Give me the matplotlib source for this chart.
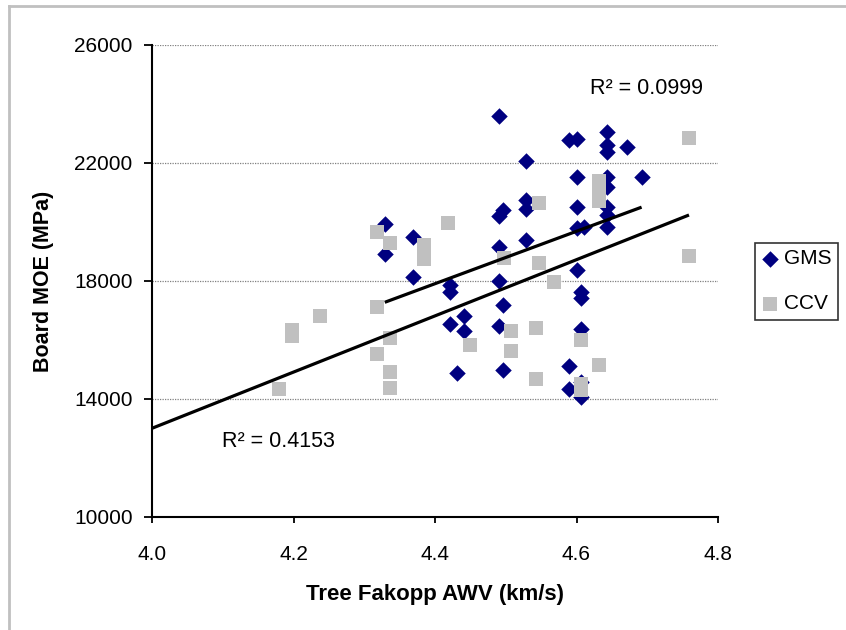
"""Board MOE against tree Fakopp AWV, GMS and CCV with linear trend lines."""
import matplotlib

matplotlib.use("Agg")
import matplotlib.pyplot as plt
import numpy as np
from matplotlib.lines import Line2D

plt.rcParams["font.family"] = ["Liberation Sans", "DejaVu Sans"]

# GMS series (km/s, MPa)
gms_awv = [
    4.329, 4.329, 4.369, 4.369, 4.421, 4.421, 4.421, 4.441, 4.441, 4.431,
    4.491, 4.491, 4.496, 4.491, 4.491, 4.496, 4.491, 4.496,
    4.528, 4.528, 4.528, 4.528,
    4.590, 4.600, 4.643, 4.643, 4.643, 4.672, 4.600, 4.643, 4.643, 4.692,
    4.600, 4.643, 4.643, 4.600, 4.610, 4.643, 4.600, 4.607, 4.607, 4.607,
    4.590, 4.590, 4.607, 4.607,
]
gms_moe = [
    19920, 18900, 19500, 18140, 17860, 17640, 16530, 16820, 16300, 14870,
    23600, 20200, 20410, 19160, 18010, 17190, 16480, 14980,
    22070, 20750, 20440, 19390,
    22780, 22810, 23040, 22610, 22360, 22530, 21520, 21540, 21200, 21520,
    20520, 20520, 20240, 19790, 19840, 19840, 18370, 17640, 17410, 16360,
    15120, 14340, 14590, 14080,
]

# CCV series (km/s, MPa)
ccv_awv = [
    4.179, 4.198, 4.198, 4.237, 4.318, 4.337, 4.318, 4.337, 4.318, 4.337,
    4.337, 4.384, 4.384, 4.419, 4.449, 4.498, 4.508, 4.508, 4.547, 4.547,
    4.543, 4.543, 4.568, 4.632, 4.632, 4.632, 4.632, 4.607, 4.632, 4.607,
    4.607, 4.759, 4.759,
]
ccv_moe = [
    14330, 16350, 16150, 16820, 19670, 19280, 17130, 16060, 15520, 14930,
    14380, 19210, 18740, 19980, 15820, 18790, 16310, 15630, 20630, 18620,
    16420, 14690, 17960, 21400, 21150, 20900, 20700, 16000, 15150, 14500,
    14300, 22840, 18850,
]

# trend lines as shown on the chart: (slope MPa per km/s, MOE at 4.0 km/s)
gms_trend = (8884, 14355)
ccv_trend = (9526, 13007)
gms_trend_range = [4.329, 4.692]
ccv_trend_range = [4.0, 4.759]

x_ticks = [4.0, 4.2, 4.4, 4.6, 4.8]
y_ticks = [10000, 14000, 18000, 22000, 26000]
gms_r2_label = "R² = 0.0999"
ccv_r2_label = "R² = 0.4153"

NAVY = "#000080"
GREY = "#C0C0C0"

fig = plt.figure(figsize=(8.46, 6.3), dpi=100)
ax = fig.add_axes([152 / 846, 1 - 517 / 630, 566 / 846, 472 / 630])

ax.scatter(gms_awv, gms_moe, marker="D", s=8.4**2, color=NAVY,
           linewidths=0, label="GMS", zorder=3)
ax.scatter(ccv_awv, ccv_moe, marker="s", s=10**2, color=GREY,
           linewidths=0, label="CCV", zorder=4)

for (slope, at4), xr in [(gms_trend, gms_trend_range),
                         (ccv_trend, ccv_trend_range)]:
    xs = np.array(xr)
    ax.plot(xs, at4 + slope * (xs - 4.0), color="black", lw=2.3, zorder=5,
            solid_capstyle="butt")

ax.text(4.619, 24540, gms_r2_label, fontsize=15.5, va="center", ha="left")
ax.text(4.099, 12576, ccv_r2_label, fontsize=15.5, va="center", ha="left")

ax.set_xlim(4.0, 4.8)
ax.set_ylim(10000, 26000)
ax.set_xticks(x_ticks)
ax.set_xticklabels([f"{t:.1f}" for t in x_ticks])
ax.set_yticks(y_ticks)
ax.set_yticklabels([str(t) for t in y_ticks])
ax.tick_params(axis="both", direction="out", width=1.3, labelsize=15,
               colors="black")
ax.tick_params(axis="x", length=4.5, pad=16)
ax.tick_params(axis="y", length=6, pad=8)
ax.grid(axis="y", color="#808080", linestyle=(0, (1, 1)), linewidth=0.9)
ax.set_axisbelow(True)
for side in ["top", "right"]:
    ax.spines[side].set_visible(False)
ax.spines["left"].set_linewidth(1.5)
ax.spines["bottom"].set_linewidth(1.5)

ax.set_xlabel("Tree Fakopp AWV (km/s)", fontsize=16, fontweight="bold",
              labelpad=14)
ax.set_ylabel("Board MOE (MPa)", fontsize=15.5, fontweight="bold",
              labelpad=14)

leg = fig.legend(loc="upper left", bbox_to_anchor=(755 / 846, 1 - 243 / 630),
                 fontsize=15, frameon=True, fancybox=False, borderpad=0.3,
                 handlelength=0.8, handletextpad=0.3, labelspacing=1.25,
                 borderaxespad=0)
leg.get_frame().set_edgecolor("black")
leg.get_frame().set_linewidth(1.2)

# light grey chart border (left and top edges visible)
fig.add_artist(Line2D([8.5 / 846, 8.5 / 846], [0, 1 - 5.5 / 630],
                      transform=fig.transFigure, color=GREY, lw=2))
fig.add_artist(Line2D([8.5 / 846, 1], [1 - 5.5 / 630, 1 - 5.5 / 630],
                      transform=fig.transFigure, color=GREY, lw=2))

fig.savefig("out.png", dpi=100)
plt.close(fig)
